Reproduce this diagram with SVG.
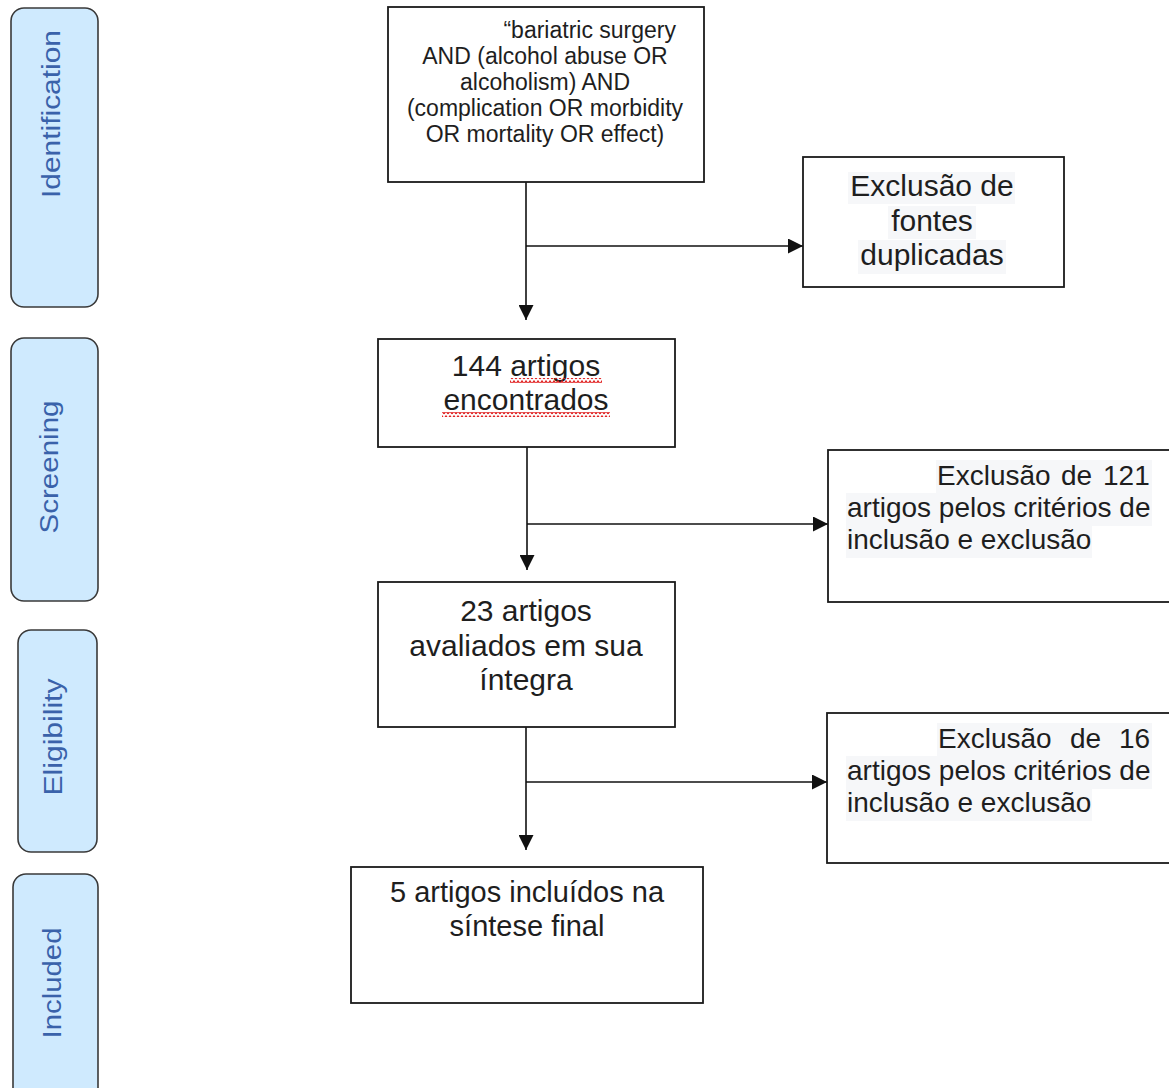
<svg xmlns="http://www.w3.org/2000/svg" width="1169" height="1088" viewBox="0 0 1169 1088">
<style>
.stage{fill:#CFEAFE;stroke:#3a3a3a;stroke-width:1.6}
.stxt{font-family:"Liberation Sans",Arial,sans-serif;font-size:26px;fill:#3A62AA;text-anchor:middle}
.box{fill:#fff;stroke:#1a1a1a;stroke-width:1.8}
.t{font-family:"Liberation Sans",Arial,sans-serif;fill:#1e1e1e}
.c{text-anchor:middle}
.hl{fill:#F6F7F9}
.conn{stroke:#111;stroke-width:1.6;fill:none}
</style>
<defs>
<marker id="arr" viewBox="0 0 10 10" refX="10" refY="5" markerWidth="15" markerHeight="15" markerUnits="userSpaceOnUse" orient="auto">
<path d="M0,0 L10,5 L0,10 z" fill="#111"/>
</marker>
<pattern id="wave" width="4" height="5" patternUnits="userSpaceOnUse">
<path d="M0,4 L2,1 L4,4" stroke="#E02020" stroke-width="1.3" fill="none"/>
</pattern>
</defs>

<g id="stage-identification">
<rect class="stage" x="11" y="8" width="87" height="299" rx="13"/>
<text class="stxt" transform="translate(60,114) rotate(-90)" textLength="168" lengthAdjust="spacingAndGlyphs">Identification</text>
</g>
<g id="stage-screening">
<rect class="stage" x="11" y="338" width="87" height="263" rx="13"/>
<text class="stxt" transform="translate(58,467) rotate(-90)" textLength="133" lengthAdjust="spacingAndGlyphs">Screening</text>
</g>
<g id="stage-eligibility">
<rect class="stage" x="18" y="630" width="79" height="222" rx="13"/>
<text class="stxt" transform="translate(62,737) rotate(-90)" textLength="117" lengthAdjust="spacingAndGlyphs">Eligibility</text>
</g>
<g id="stage-included">
<rect class="stage" x="13" y="874" width="85" height="230" rx="13"/>
<text class="stxt" transform="translate(61,983) rotate(-90)" textLength="111" lengthAdjust="spacingAndGlyphs">Included</text>
</g>

<g id="connectors">
<path class="conn" d="M526,182 V320" marker-end="url(#arr)"/>
<path class="conn" d="M526,246 H803" marker-end="url(#arr)"/>
<path class="conn" d="M527,447 V570" marker-end="url(#arr)"/>
<path class="conn" d="M527,524 H828" marker-end="url(#arr)"/>
<path class="conn" d="M526,727 V850" marker-end="url(#arr)"/>
<path class="conn" d="M526,782 H827" marker-end="url(#arr)"/>
</g>

<g id="search">
<rect class="box" x="388" y="7" width="316" height="175"/>
<g class="t" font-size="23">
<text x="676" y="38" text-anchor="end">“bariatric surgery</text>
<text class="c" x="545" y="64">AND (alcohol abuse OR</text>
<text class="c" x="545" y="90">alcoholism) AND</text>
<text class="c" x="545" y="116">(complication OR morbidity</text>
<text class="c" x="545" y="142">OR mortality OR effect)</text>
</g>
</g>

<g id="duplicates">
<rect class="box" x="803" y="157" width="261" height="130"/>
<rect class="hl" x="848" y="172" width="167" height="32"/>
<rect class="hl" x="888" y="206" width="88" height="33"/>
<rect class="hl" x="858" y="240" width="148" height="34"/>
<g class="t c" font-size="30">
<text x="932" y="196">Exclusão de</text>
<text x="932" y="231">fontes</text>
<text x="932" y="265">duplicadas</text>
</g>
</g>

<g id="found">
<rect class="box" x="378" y="339" width="297" height="108"/>
<g class="t c" font-size="30">
<text x="526" y="376">144 artigos</text>
<text x="526" y="410">encontrados</text>
</g>
<rect x="510" y="378" width="92" height="5" fill="url(#wave)"/>
<rect x="442" y="412" width="168" height="5" fill="url(#wave)"/>
</g>

<g id="excl121">
<rect class="box" x="828" y="450" width="360" height="152"/>
<rect class="hl" x="936" y="460" width="216" height="33"/>
<rect class="hl" x="846" y="493" width="306" height="33"/>
<rect class="hl" x="846" y="526" width="246" height="32"/>
<g class="t" font-size="28">
<text y="485"><tspan x="937">Exclusão</tspan><tspan x="1061">de</tspan><tspan x="1103">121</tspan></text>
<text x="847" y="517">artigos pelos critérios de</text>
<text x="847" y="549">inclusão e exclusão</text>
</g>
</g>

<g id="assessed">
<rect class="box" x="378" y="582" width="297" height="145"/>
<g class="t c" font-size="30">
<text x="526" y="621">23 artigos</text>
<text x="526" y="656">avaliados em sua</text>
<text x="526" y="690">íntegra</text>
</g>
</g>

<g id="excl16">
<rect class="box" x="827" y="713" width="360" height="150"/>
<rect class="hl" x="937" y="723" width="215" height="33"/>
<rect class="hl" x="846" y="756" width="306" height="33"/>
<rect class="hl" x="846" y="789" width="246" height="32"/>
<g class="t" font-size="28">
<text y="748"><tspan x="938">Exclusão</tspan><tspan x="1070">de</tspan><tspan x="1119">16</tspan></text>
<text x="847" y="780">artigos pelos critérios de</text>
<text x="847" y="812">inclusão e exclusão</text>
</g>
</g>

<g id="included">
<rect class="box" x="351" y="867" width="352" height="136"/>
<g class="t c" font-size="29">
<text x="527" y="902">5 artigos incluídos na</text>
<text x="527" y="936">síntese final</text>
</g>
</g>
</svg>
